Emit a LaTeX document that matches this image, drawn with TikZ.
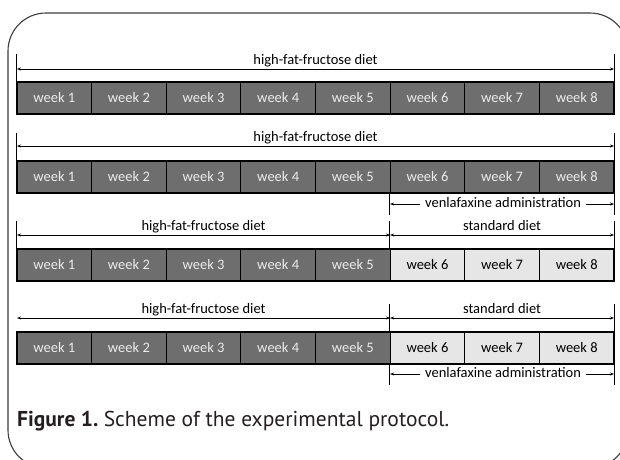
\documentclass[tikz,border=0pt]{standalone}
\usepackage{fontspec}
\setmainfont{Carlito}
\newfontfamily\capfont{PT Sans}
\usetikzlibrary{arrows.meta,calc}
\definecolor{darkcell}{RGB}{110,110,110}
\definecolor{lightcell}{RGB}{230,230,230}
\definecolor{darktext}{RGB}{236,236,236}
\definecolor{framecol}{RGB}{60,60,60}
\tikzset{
 cellbox/.style={draw=black, line width=1.2pt, minimum width=74.6pt, minimum height=32pt, inner sep=0pt, font=\fontsize{14.5}{16}\selectfont},
 darkbox/.style={cellbox, fill=darkcell, text=darktext},
 lightbox/.style={cellbox, fill=lightcell, text=black},
 span/.style={line width=0.6pt, {Stealth[length=4pt,width=3pt]}-{Stealth[length=4pt,width=3pt]}},
 tickline/.style={line width=0.6pt},
 lbl/.style={font=\fontsize{14.5}{16}\selectfont, inner sep=0pt, anchor=base},
 vlbl/.style={lbl, fill=white, inner xsep=5pt, inner ysep=2pt},
}
\begin{document}
\begin{tikzpicture}[x=1pt,y=-1pt]
\useasboundingbox (0,0) rectangle (620,459);
\begin{scope}
\clip (0,0) rectangle (620,459);
\draw[line width=1.1pt, color=framecol, rounded corners=38pt] (8,13) rectangle (628,468);
\end{scope}

% cells
\foreach \i in {1,...,8} {
  \node[darkbox] (a\i) at ({17+74.625*(\i-0.5)},98) {week \i};
  \node[darkbox] (b\i) at ({17+74.625*(\i-0.5)},177) {week \i};
}
\foreach \i in {1,...,5} {
  \node[darkbox] (c\i) at ({17+74.625*(\i-0.5)},265) {week \i};
  \node[darkbox] (d\i) at ({17+74.625*(\i-0.5)},348) {week \i};
}
\foreach \i in {6,7,8} {
  \node[lightbox] (c\i) at ({17+74.625*(\i-0.5)},265) {week \i};
  \node[lightbox] (d\i) at ({17+74.625*(\i-0.5)},348) {week \i};
}

% row 1
\coordinate (aL) at (17,69); \coordinate (aR) at (614,69);
\draw[tickline] (a1.north west) -- ++(0,-27);
\draw[tickline] (a8.north east) -- ++(0,-27);
\draw[span] (aL) -- (aR);
\node[lbl] (alab) at ($(aL)!0.5!(aR)+(0,-5)$) {high-fat-fructose diet};

% row 2
\coordinate (bL) at (17,146); \coordinate (bR) at (614,146);
\draw[tickline] (b1.north west) -- ++(0,-27);
\draw[tickline] (b8.north east) -- ++(0,-27);
\draw[span] (bL) -- (bR);
\node[lbl] (blab) at ($(bL)!0.5!(bR)+(0,-5)$) {high-fat-fructose diet};
% venlafaxine row 2
\coordinate (bvL) at (390.1,204); \coordinate (bvR) at (614,204);
\draw[tickline] (b6.south west) -- ++(0,21);
\draw[tickline] (b8.south east) -- ++(0,21);
\draw[span] (bvL) -- (bvR);
\node[vlbl] (bvlab) at ($(bvL)!0.5!(bvR)+(1,3.5)$) {venlafaxine administration};

% row 3
\coordinate (cL) at (17,235); \coordinate (cM) at (390.1,235); \coordinate (cR) at (614,235);
\draw[tickline] (c1.north west) -- ++(0,-27);
\draw[tickline] (c6.north west) -- ++(0,-27);
\draw[tickline] (c8.north east) -- ++(0,-27);
\draw[span] (cL) -- (cM);
\draw[span] (cM) -- (cR);
\node[lbl] (clab1) at ($(cL)!0.5!(cM)+(0,-5)$) {high-fat-fructose diet};
\node[lbl] (clab2) at ($(cM)!0.5!(cR)+(0,-5)$) {standard diet};

% row 4
\coordinate (dL) at (17,318); \coordinate (dM) at (390.1,318); \coordinate (dR) at (614,318);
\draw[tickline] (d6.north west) -- ++(0,-27);
\draw[tickline] (d8.north east) -- ++(0,-27);
\draw[span] (dL) -- (dM);
\draw[span] (dM) -- (dR);
\node[lbl] (dlab1) at ($(dL)!0.5!(dM)+(0,-5)$) {high-fat-fructose diet};
\node[lbl] (dlab2) at ($(dM)!0.5!(dR)+(0,-5)$) {standard diet};
% venlafaxine row 4
\coordinate (dvL) at (390.1,374); \coordinate (dvR) at (614,374);
\draw[tickline] (d6.south west) -- ++(0,20);
\draw[tickline] (d8.south east) -- ++(0,20);
\draw[span] (dvL) -- (dvR);
\node[vlbl] (dvlab) at ($(dvL)!0.5!(dvR)+(1,3.5)$) {venlafaxine administration};

% caption
\node[anchor=base west, inner sep=0pt, text={rgb,255:red,35;green,31;blue,32}] (cap) at (17,426)
  {\capfont\fontsize{21.5}{25}\selectfont\bfseries Figure 1.\ \mdseries Scheme of the experimental protocol.};
\end{tikzpicture}
\end{document}
